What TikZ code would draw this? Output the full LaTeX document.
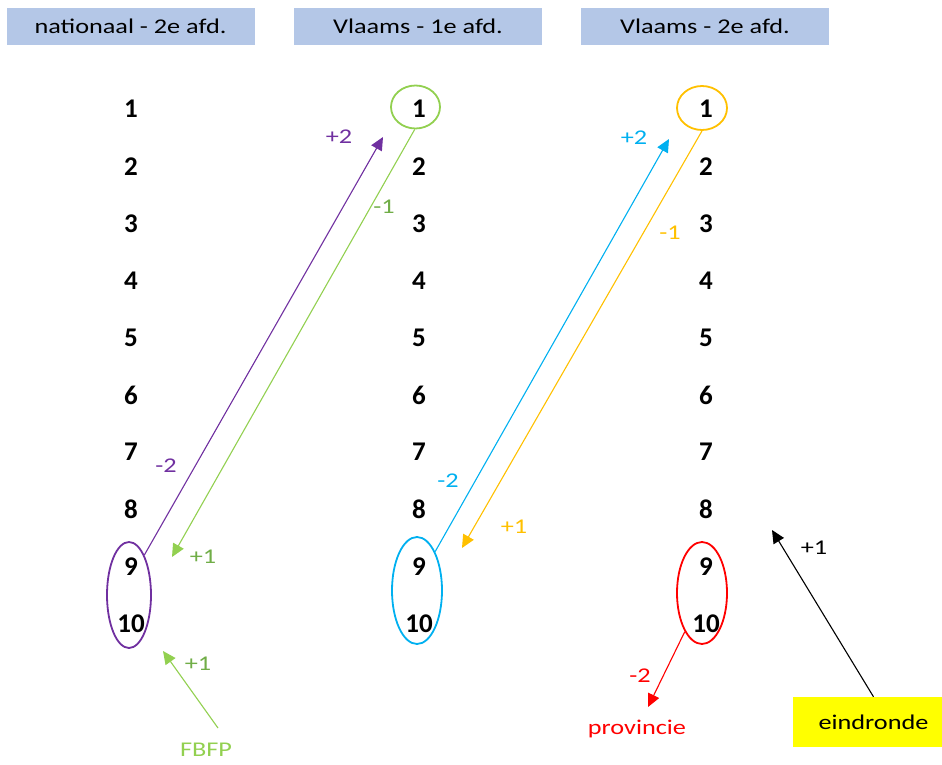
\documentclass[tikz,border=0pt]{standalone}
\usepackage{fontspec}
\setmainfont{Carlito}
\newfontfamily\widefont[FakeStretch=1.25]{Carlito}
\usetikzlibrary{arrows.meta,shapes.geometric}
\definecolor{hdr}{HTML}{B4C7E7}
\definecolor{cpurple}{HTML}{7030A0}
\definecolor{cgreen}{HTML}{92D050}
\definecolor{cdgreen}{HTML}{70AD47}
\definecolor{cblue}{HTML}{00B0F0}
\definecolor{corange}{HTML}{FFC000}
\definecolor{cred}{HTML}{FF0000}
\definecolor{cyellow}{HTML}{FFFF00}
\tikzset{
  hdrbox/.style={fill=hdr, minimum width=248pt, minimum height=37pt, inner sep=0pt, font=\widefont\fontsize{21}{24}\selectfont},
  num/.style={font=\fontsize{27}{30}\selectfont\bfseries, inner sep=0pt},
  lab/.style={font=\widefont\fontsize{21}{24}\selectfont, inner sep=0pt},
  ring/.style={draw, ellipse, line width=1.8pt, inner sep=0pt},
  arr/.style={line width=1.1pt, -{Triangle[length=13pt,width=12pt]}},
}
\begin{document}
\begin{tikzpicture}[x=1pt,y=-1pt]
\useasboundingbox (0,0) rectangle (942,765);
% headers
\node[hdrbox] (h1) at (130.5,26.5) {nationaal - 2e afd.};
\node[hdrbox] (h2) at (418,26.5) {Vlaams - 1e afd.};
\node[hdrbox] (h3) at (705,26.5) {Vlaams - 2e afd.};
% numbers
\foreach \i in {1,...,10}{
  \node[num] (a\i) at (131,{109+57.2*(\i-1)}) {\i};
  \node[num] (b\i) at (419,{109+57.2*(\i-1)}) {\i};
  \node[num] (c\i) at (706,{109+57.2*(\i-1)}) {\i};
}
% ellipses
\node[ring, cgreen, minimum width=49pt, minimum height=43pt] (eg) at (415.5,107) {};
\node[ring, corange, minimum width=50pt, minimum height=44pt] (eo) at (702,108) {};
\node[ring, cpurple, minimum width=44pt, minimum height=106pt] (ep) at (129,595) {};
\node[ring, cblue, minimum width=50pt, minimum height=107pt] (eb) at (417,590.5) {};
\node[ring, cred, minimum width=50pt, minimum height=102pt] (er) at (702,593) {};
% free ends
\coordinate (tp) at (383,137);
\coordinate (tg) at (172,557);
\coordinate (tb) at (669,139);
\coordinate (to) at (462,548);
\coordinate (tr) at (648,707);
\coordinate (tk) at (772,530);
\coordinate (tf) at (163,651);
\coordinate (sf) at (218,728);
% bottom nodes
\node[lab, text=cgreen] (fbfp) at (206,750) {FBFP};
\node[lab, text=cred] (prov) at (637,729) {provincie};
\node[fill=cyellow, minimum width=161pt, minimum height=50pt, inner sep=0pt, font=\widefont\fontsize{21}{24}\selectfont] (ein) at (873.5,722) {eindronde};
% arrows
\draw[arr, cpurple] (ep.69) -- (tp);
\draw[arr, cgreen] (eg.-92) -- (tg);
\draw[arr, cblue] (eb.65) -- (tb);
\draw[arr, corange] (eo.-90) -- (to);
\draw[arr, cred] (er.-114) -- (tr);
\draw[arr, black] (ein.north) -- (tk);
\draw[arr, cgreen] (sf) -- (tf);
% labels
\node[lab, text=cpurple] (lp1) at (339,137) {+2};
\node[lab, text=cpurple] (lp2) at (166,466) {-2};
\node[lab, text=cdgreen] (lg1) at (384,207) {-1};
\node[lab, text=cdgreen] (lg2) at (203,557) {+1};
\node[lab, text=cdgreen] (lf) at (198,664) {+1};
\node[lab, text=cblue] (lb1) at (634,138) {+2};
\node[lab, text=cblue] (lb2) at (448,481) {-2};
\node[lab, text=corange] (lo1) at (670,233) {-1};
\node[lab, text=corange] (lo2) at (514,527) {+1};
\node[lab, text=cred] (lr) at (640,676) {-2};
\node[lab, text=black] (lk) at (814,548) {+1};
\end{tikzpicture}
\end{document}
